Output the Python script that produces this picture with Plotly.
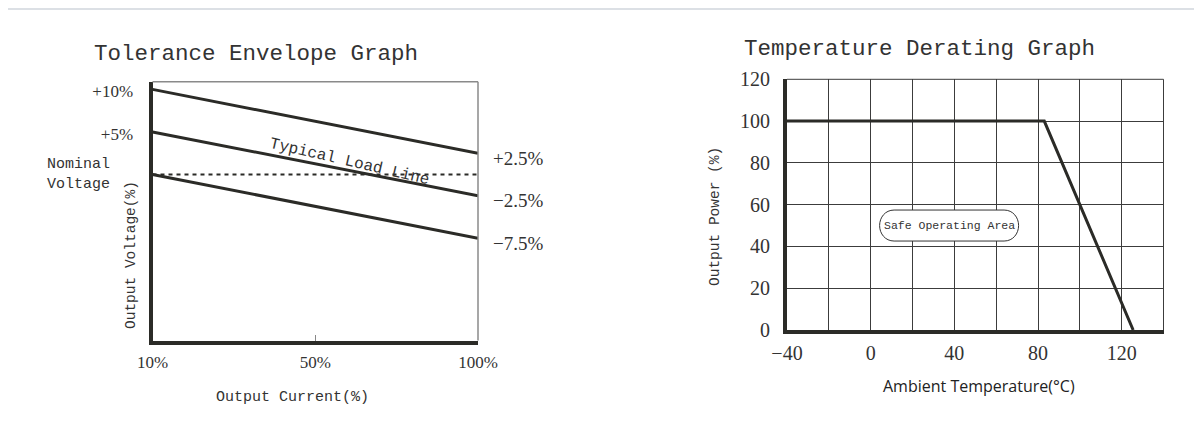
import plotly.graph_objects as go

# The page body keeps an 8px margin, so the figure is laid out in page pixels
# minus that offset.
OFF = 8
W, H = 1202 - OFF, 440 - OFF

# ---------------- data: Tolerance Envelope Graph ----------------
current_labels = ["10%", "50%", "100%"]
envelope_x = ["10%", "100%"]
upper_limit = [10, 2.5]
typical_load = [5, -2.5]
lower_limit = [0, -7.5]
nominal_x = ["10%", "50%", "100%"]
nominal = [0, 0, 0]
left_tickvals = [10, 5]
left_ticktext = ["+10%", "+5%"]
right_tickvals = [2.5, -2.5, -7.5]
right_ticktext = ["+2.5%", "\u22122.5%", "\u22127.5%"]

# ---------------- data: Temperature Derating Graph ----------------
temperature = [-40, 83, 125.5]
output_power = [100, 100, 0]

LINE = "#2b2b27"
TXT = "#333333"
GRID = "#3c3c3c"
MONO = "Liberation Mono"
SERIF = "Liberation Serif"


def px(x):
    return (x - OFF) / W


def py(y):
    return 1 - (y - OFF) / H


fig = go.Figure()

for ys in [upper_limit, typical_load, lower_limit]:
    fig.add_trace(go.Scatter(x=envelope_x, y=ys, mode="lines",
                             line=dict(color=LINE, width=3),
                             xaxis="x", yaxis="y3", hoverinfo="skip",
                             showlegend=False))
fig.add_trace(go.Scatter(x=nominal_x, y=nominal, mode="lines",
                         line=dict(color=LINE, width=2, dash="4px,4px"),
                         xaxis="x", yaxis="y", hoverinfo="skip",
                         showlegend=False))
fig.add_trace(go.Scatter(x=temperature, y=output_power, mode="lines",
                         line=dict(color=LINE, width=3),
                         xaxis="x2", yaxis="y2", hoverinfo="skip",
                         showlegend=False))

yrange_left = [-19.5, 10.9]

fig.update_layout(
    template="none",
    width=W, height=H,
    autosize=False,
    margin=dict(l=0, r=0, t=0, b=0, pad=0, autoexpand=False),
    paper_bgcolor="white",
    plot_bgcolor="white",
    showlegend=False,
    xaxis=dict(domain=[px(152.5), px(478)], anchor="y", type="category",
               categoryorder="array", categoryarray=current_labels,
               range=[0, 2], showline=True, linewidth=4, linecolor=LINE,
               ticks="inside", ticklen=6, tickwidth=1, tickcolor="#888",
               showgrid=False, zeroline=False, automargin=False,
               tickfont=dict(family=SERIF, size=17, color=TXT),
               ticklabelstandoff=3),
    yaxis=dict(domain=[py(340.5), py(81.7)], anchor="x", range=yrange_left,
               tickvals=left_tickvals, ticktext=left_ticktext,
               showline=True, linewidth=4, linecolor=LINE, ticks="",
               showgrid=False, zeroline=False, automargin=False,
               tickfont=dict(family=SERIF, size=17, color=TXT),
               ticklabelstandoff=12, ticklabelshift=2),
    yaxis3=dict(overlaying="y", side="right", anchor="x", range=yrange_left,
                tickvals=right_tickvals, ticktext=right_ticktext,
                showline=False, showgrid=False, zeroline=False, ticks="",
                automargin=False,
                tickfont=dict(family=SERIF, size=19, color=TXT),
                ticklabelstandoff=14, ticklabelshift=5),
    xaxis2=dict(domain=[px(787), px(1163.5)], anchor="y2", range=[-40, 140],
                tick0=-40, dtick=40, showgrid=True, gridcolor=GRID, gridwidth=1,
                minor=dict(tick0=-40, dtick=20, showgrid=True, gridcolor=GRID,
                           gridwidth=1),
                showline=True, linewidth=4, linecolor=LINE, ticks="",
                zeroline=False, automargin=False,
                tickfont=dict(family=SERIF, size=20, color=TXT),
                ticklabelstandoff=2),
    yaxis2=dict(domain=[py(330), py(79.3)], anchor="x2", range=[0, 120],
                dtick=20, showgrid=True, gridcolor=GRID, gridwidth=1,
                showline=True, linewidth=4, linecolor=LINE, ticks="",
                zeroline=False, automargin=False,
                tickfont=dict(family=SERIF, size=20, color=TXT),
                ticklabelstandoff=9),
)

shapes = [
    # visible remainder of the grey top band
    dict(type="rect", xref="paper", yref="paper", x0=-0.01, x1=1.01,
         y0=py(10), y1=1.01, fillcolor="#dce0e5", line=dict(width=0),
         layer="below"),
    # left chart: thin grey top & right borders
    dict(type="line", xref="x domain", yref="y domain", x0=0, x1=1, y0=1, y1=1,
         line=dict(color="#8a8a8a", width=1.5)),
    dict(type="line", xref="x domain", yref="y domain", x0=1, x1=1, y0=0, y1=1,
         line=dict(color="#8a8a8a", width=1.5)),
    # right chart: thin top & right borders
    dict(type="line", xref="x2 domain", yref="y2 domain", x0=0, x1=1, y0=1, y1=1,
         line=dict(color=GRID, width=1)),
    dict(type="line", xref="x2 domain", yref="y2 domain", x0=1, x1=1, y0=0, y1=1,
         line=dict(color=GRID, width=1)),
    # rounded label box
    dict(type="path", xref="x2", yref="y2", xsizemode="pixel",
         ysizemode="pixel", xanchor=37.5, yanchor=50,
         path=("M -55,-15.5 L 55,-15.5 C 64,-15.5 69.5,-8 69.5,0 "
               "C 69.5,8 64,15.5 55,15.5 L -55,15.5 C -64,15.5 -69.5,8 -69.5,0 "
               "C -69.5,-8 -64,-15.5 -55,-15.5 Z"),
         fillcolor="white", line=dict(color="#333", width=1)),
]

annotations = [
    dict(text="Tolerance Envelope Graph", xref="paper", yref="paper",
         x=px(92), y=py(54), xanchor="left", yanchor="middle", showarrow=False,
         font=dict(family=MONO, size=22.5, color=TXT)),
    dict(text="Temperature Derating Graph", xref="paper", yref="paper",
         x=px(742), y=py(49), xanchor="left", yanchor="middle", showarrow=False,
         font=dict(family=MONO, size=22.5, color=TXT)),
    dict(text="Nominal<br>Voltage", xref="paper", yref="paper",
         x=px(45), y=py(174), xanchor="left", yanchor="middle", align="left",
         showarrow=False, font=dict(family=MONO, size=15, color=TXT)),
    dict(text="Output Voltage(%)", xref="paper", yref="paper",
         x=px(131), y=py(255), xanchor="center", yanchor="middle",
         textangle=-90, showarrow=False,
         font=dict(family=MONO, size=14.5, color=TXT)),
    dict(text="Output Current(%)", xref="paper", yref="paper",
         x=px(292), y=py(397), xanchor="center", yanchor="middle",
         showarrow=False, font=dict(family=MONO, size=15, color=TXT)),
    dict(text="Typical Load Line", xref="x", yref="y", x=1.21, y=1.5,
         xanchor="center", yanchor="middle", textangle=13, showarrow=False,
         font=dict(family=MONO, size=16, color=TXT)),
    dict(text="Output Power (%)", xref="paper", yref="paper",
         x=px(715), y=py(217), xanchor="center", yanchor="middle",
         textangle=-90, showarrow=False,
         font=dict(family=MONO, size=14.5, color=TXT)),
    dict(text="Ambient Temperature(°C)", xref="paper", yref="paper",
         x=px(979), y=py(386), xanchor="center", yanchor="middle",
         showarrow=False, font=dict(family="Open Sans", size=16, color="#222")),
    dict(text="Safe Operating Area", xref="x2", yref="y2", x=37.5, y=50,
         xanchor="center", yanchor="middle", showarrow=False,
         font=dict(family=MONO, size=11.5, color=TXT)),
]

fig.update_layout(shapes=shapes, annotations=annotations)

fig.write_html("out.html")
